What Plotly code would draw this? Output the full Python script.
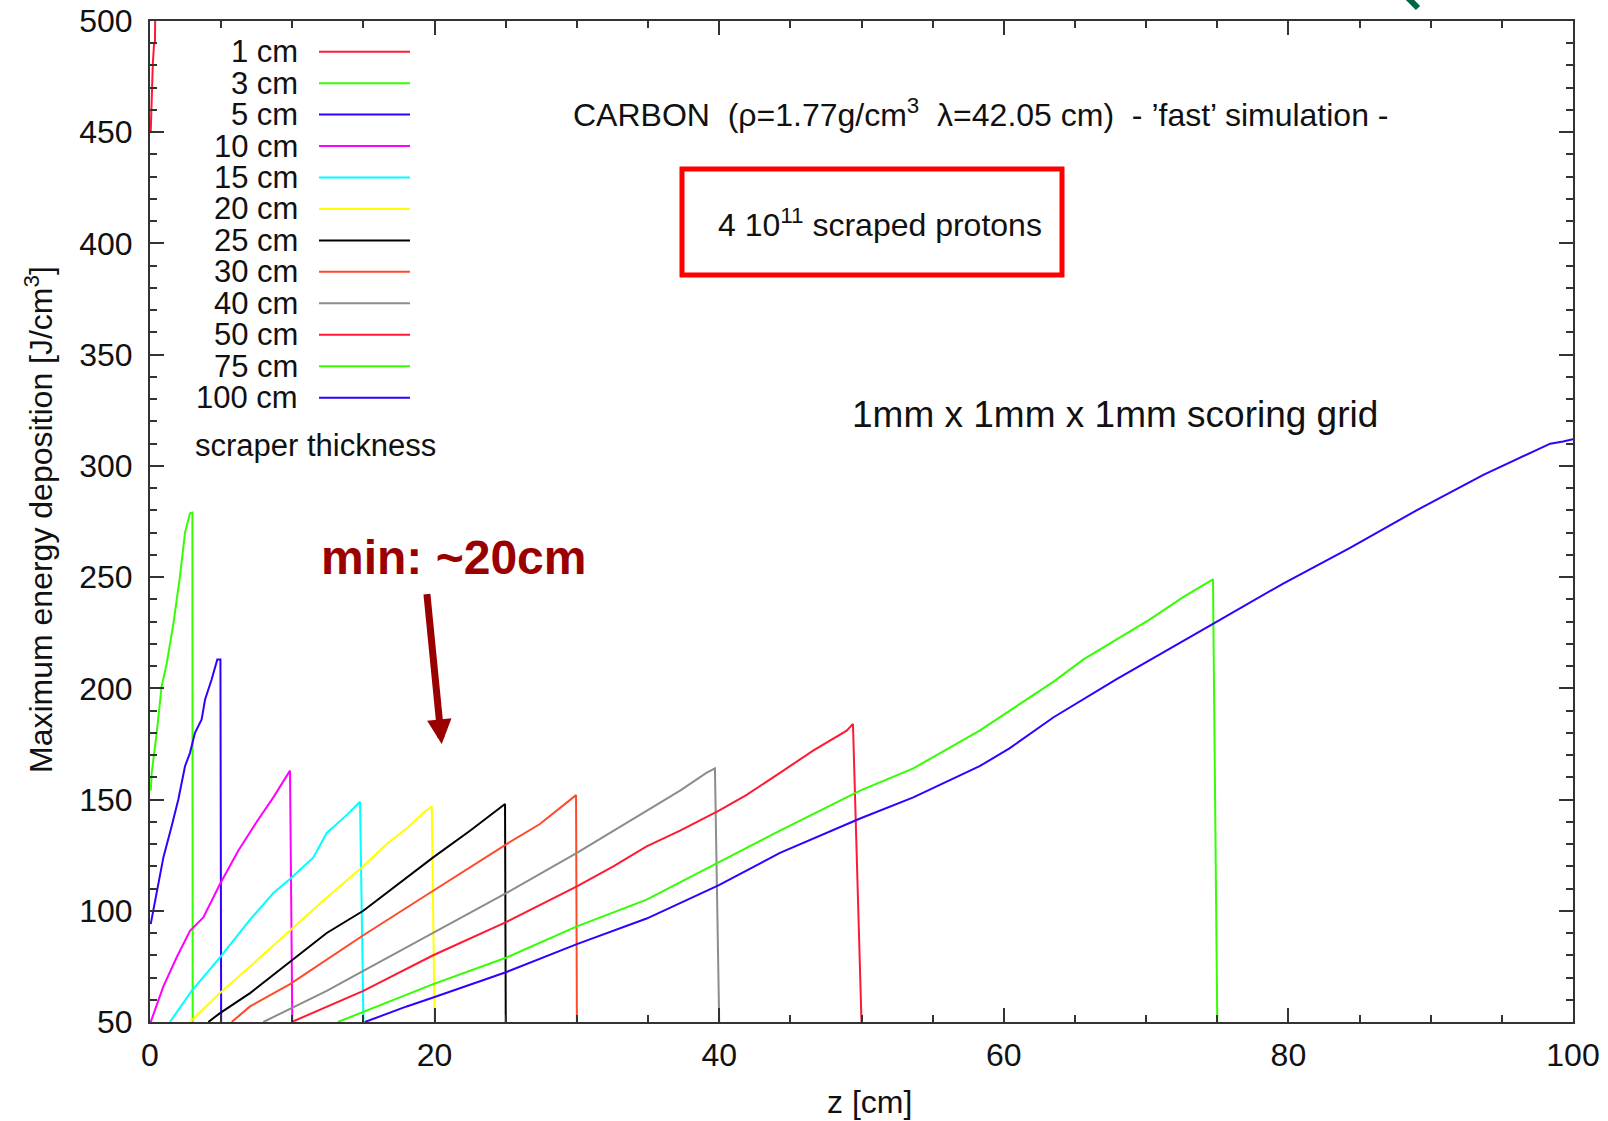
import plotly.graph_objects as go

# ---- data ----
thickness_labels = ["1 cm", "3 cm", "5 cm", "10 cm", "15 cm", "20 cm", "25 cm",
                    "30 cm", "40 cm", "50 cm", "75 cm", "100 cm"]
colors = ["#ff1a33", "#33ff00", "#3300ff", "#ff00ff", "#00ffff", "#ffff00",
          "#000000", "#ff4a2a", "#8c8c8c", "#ff1a33", "#33ff00", "#3300ff"]

z1 = [0.05, 0.12, 0.2, 0.28, 0.35, 0.40]
v1 = [450, 469, 481, 489, 491, 530]

z3 = [0.05, 0.12, 0.47, 0.82, 1.17, 1.64, 2.1, 2.46, 2.81, 2.98, 3.0]
v3 = [154, 162, 180, 201, 211, 229, 250, 270, 278.7, 279, 50]

z5 = [0.05, 0.47, 0.94, 1.52, 1.99, 2.46, 2.81, 3.16, 3.63, 3.87, 4.33, 4.73, 4.95, 5.0]
v5 = [94, 108, 124, 138, 150, 165, 171, 180, 186, 195, 204, 213, 213, 50]

z10 = [0.05, 0.94, 1.87, 2.81, 3.75, 4.92, 6.2, 7.5, 8.67, 9.6, 9.84, 10.0]
v10 = [50, 66, 79, 91, 97, 112, 127, 140, 151, 161, 163, 50]

z15 = [1.4, 2.93, 4.92, 7.03, 8.67, 9.96, 11.48, 12.42, 13.82, 14.76, 15.0]
v15 = [50, 64, 79, 96, 108, 115, 124, 135, 143, 149, 50]

z20 = [2.8, 4.92, 7.03, 9.84, 12.42, 14.99, 16.63, 18.04, 19.2, 19.8, 20.0]
v20 = [50, 63, 75, 91, 106, 120, 130, 137, 144, 147, 50]

z25 = [4.1, 4.92, 7.03, 9.84, 12.42, 14.99, 18.04, 19.9, 22.49, 24.1, 24.95, 25.0]
v25 = [50, 54, 63, 77, 90, 100, 115, 124, 136, 144, 148, 50]

z30 = [5.74, 7.03, 9.84, 12.42, 14.99, 19.9, 25.06, 27.4, 29.5, 29.94, 30.0]
v30 = [50, 57, 67, 78, 89, 109, 130, 139, 150, 152, 50]

z40 = [7.96, 9.84, 12.42, 14.99, 19.9, 25.06, 30.0, 32.56, 34.9, 37.25, 39.1, 39.7, 40.0]
v40 = [50, 56, 64, 73, 90, 108, 126, 136, 145, 154, 162, 164, 50]

z50 = [9.96, 12.42, 14.99, 19.9, 25.06, 30.0, 32.56, 34.9, 37.25, 39.98, 41.9,
       44.27, 46.6, 48.96, 49.4, 50.0]
v50 = [50, 57, 64, 80, 95, 111, 120, 129, 136, 145, 152, 162, 172, 181, 184, 50]

z75 = [13.2, 14.99, 19.9, 25.06, 30.0, 34.9, 39.98, 44.27, 49.9, 53.64, 58.3,
       63.5, 65.6, 67.9, 70.27, 72.6, 74.7, 75.0]
v75 = [50, 54.5, 67, 79, 93, 105, 122, 136, 154, 164, 181, 203, 213, 222, 231,
       241, 249, 50]

z100 = [15.1, 18.04, 19.9, 25.06, 30.0, 34.9, 39.98, 44.27, 49.9, 53.64, 58.3,
        60.4, 63.5, 67.9, 74.7, 79.6, 84.3, 89.0, 93.7, 98.4, 99.3, 100.0]
v100 = [50, 57, 61, 72.5, 85, 96.5, 111.5, 126, 141.5, 151, 165, 173, 187, 204,
        229, 247, 263, 280, 296, 310, 311, 312]

z_series = [z1, z3, z5, z10, z15, z20, z25, z30, z40, z50, z75, z100]
v_series = [v1, v3, v5, v10, v15, v20, v25, v30, v40, v50, v75, v100]

x_ticks = [0, 20, 40, 60, 80, 100]
y_ticks = [50, 100, 150, 200, 250, 300, 350, 400, 450, 500]

FONT = "Liberation Sans, Arial, sans-serif"
AX = "#333333"
TXT = "#111111"

fig = go.Figure()
for zs, vs, c in zip(z_series, v_series, colors):
    fig.add_trace(go.Scatter(x=zs, y=vs, mode="lines", line=dict(color=c, width=2),
                             showlegend=False, hoverinfo="skip"))

W, H = 1608, 1121
L, R, T, B = 150, 35, 21, 99
pw, ph = W - L - R, H - T - B


def px2paper(px, py):
    return (px - L) / pw, (H - B - py) / ph


annotations = []
shapes = []

# custom legend (text left, line sample right)
for i, (lab, c) in enumerate(zip(thickness_labels, colors)):
    py = 51.7 + i * 31.45
    xt, yt = px2paper(300, py)
    xa, _ = px2paper(319, py)
    xb, _ = px2paper(410, py)
    annotations.append(dict(x=xt, y=yt, xref="paper", yref="paper", text=lab,
                            showarrow=False, xanchor="right", yanchor="middle",
                            font=dict(family=FONT, size=31, color=TXT)))
    shapes.append(dict(type="line", xref="paper", yref="paper", x0=xa, x1=xb,
                       y0=yt, y1=yt, line=dict(color=c, width=2)))

x, y = px2paper(315, 445)
annotations.append(dict(x=x, y=y, xref="paper", yref="paper", text="scraper thickness",
                        showarrow=False, xanchor="center", yanchor="middle",
                        font=dict(family=FONT, size=31, color=TXT)))

x, y = px2paper(981, 113)
annotations.append(dict(x=x, y=y, xref="paper", yref="paper",
                        text="CARBON\u00a0\u00a0(\u03c1=1.77g/cm<sup>3</sup>\u00a0\u00a0\u03bb=42.05 cm)\u00a0\u00a0- \u2019fast\u2019 simulation -",
                        showarrow=False, xanchor="center", yanchor="middle",
                        font=dict(family=FONT, size=32, color=TXT)))

x, y = px2paper(880, 223)
annotations.append(dict(x=x, y=y, xref="paper", yref="paper",
                        text="4 10<sup>11</sup> scraped protons",
                        showarrow=False, xanchor="center", yanchor="middle",
                        font=dict(family=FONT, size=32, color=TXT)))
bx0, by0 = px2paper(682, 275)
bx1, by1 = px2paper(1062, 169)
shapes.append(dict(type="rect", xref="paper", yref="paper", x0=bx0, x1=bx1,
                   y0=by0, y1=by1, line=dict(color="#ff0000", width=5)))

x, y = px2paper(1115, 414)
annotations.append(dict(x=x, y=y, xref="paper", yref="paper",
                        text="1mm x 1mm x 1mm scoring grid",
                        showarrow=False, xanchor="center", yanchor="middle",
                        font=dict(family=FONT, size=37, color=TXT)))

x, y = px2paper(453, 557)
annotations.append(dict(x=x, y=y, xref="paper", yref="paper",
                        text="<b>min: ~20cm</b>",
                        showarrow=False, xanchor="center", yanchor="middle",
                        font=dict(family=FONT, size=48, color="#9b0000")))

# arrow
annotations.append(dict(x=20.5, y=175, xref="x", yref="y", ax=19.45, ay=243,
                        axref="x", ayref="y", text="", showarrow=True,
                        arrowhead=2, arrowsize=0.7, arrowwidth=7,
                        arrowcolor="#9b0000"))

# axis titles
x, y = px2paper(39, 520)
annotations.append(dict(x=x, y=y, xref="paper", yref="paper",
                        text="Maximum energy deposition [J/cm<sup>3</sup>]",
                        textangle=-90, showarrow=False, xanchor="center",
                        yanchor="middle",
                        font=dict(family=FONT, size=32, color=TXT)))
x, y = px2paper(870, 1102)
annotations.append(dict(x=x, y=y, xref="paper", yref="paper", text="z [cm]",
                        showarrow=False, xanchor="center", yanchor="middle",
                        font=dict(family=FONT, size=32, color=TXT)))

# small slide fragment at the top right
gx0, gy0 = px2paper(1408, -2)
gx1, gy1 = px2paper(1418, 8)
shapes.append(dict(type="line", xref="paper", yref="paper", x0=gx0, y0=gy0,
                   x1=gx1, y1=gy1, line=dict(color="#006644", width=6)))

fig.update_layout(
    width=W, height=H,
    margin=dict(l=L, r=R, t=T, b=B, autoexpand=False),
    paper_bgcolor="white", plot_bgcolor="white",
    annotations=annotations, shapes=shapes,
    xaxis=dict(range=[0, 100], tickvals=x_ticks, ticks="inside", ticklen=14,
               tickwidth=2, tickcolor=AX, showline=True, linecolor=AX,
               linewidth=2, mirror="ticks", showgrid=False, zeroline=False,
               automargin=False, ticklabelstandoff=4,
               tickfont=dict(family=FONT, size=32, color=TXT),
               minor=dict(dtick=5, ticks="inside", ticklen=7, tickwidth=2,
                          tickcolor=AX, showgrid=False)),
    yaxis=dict(range=[50, 500], tickvals=y_ticks, ticks="inside", ticklen=14,
               tickwidth=2, tickcolor=AX, showline=True, linecolor=AX,
               linewidth=2, mirror="ticks", showgrid=False, zeroline=False,
               automargin=False, ticklabelstandoff=9,
               tickfont=dict(family=FONT, size=32, color=TXT),
               minor=dict(dtick=10, ticks="inside", ticklen=7, tickwidth=2,
                          tickcolor=AX, showgrid=False)),
)

fig.write_html("out.html")
